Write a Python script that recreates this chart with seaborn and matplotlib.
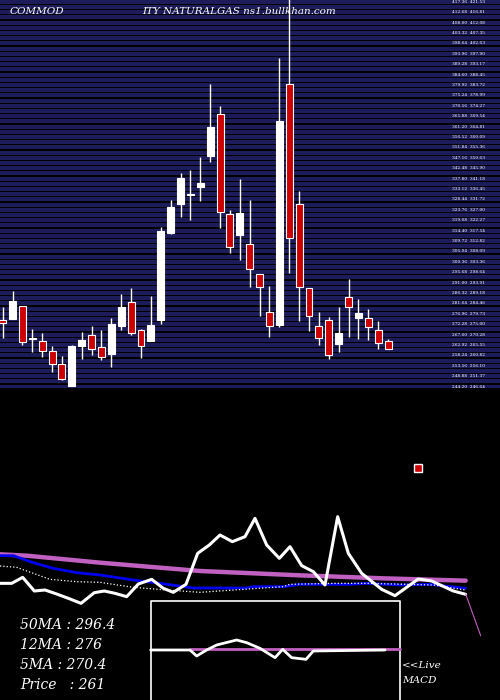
import numpy as np
import pandas as pd
import matplotlib
matplotlib.use("Agg")
import matplotlib.pyplot as plt
import seaborn as sns

sns.set_theme(style="dark")
plt.rcParams['font.family'] = ['DejaVu Serif']

opens  = [274.2,274.5,280.5,265.5,264.8,260.3,254.3,244.5,262.7,267.5,261.9,258.9,271.7,282.2,269.7,264.9,274.2,313.2,326.4,330.5,
          334.2,348.2,366.8,321.8,312.5,308.3,294.8,277.7,272.0,380.3,326.3,288.5,271.7,274.2,263.4,284.4,275.3,275.0,269.7,264.8]
closes = [273.0,282.8,264.5,265.7,260.4,254.3,247.7,262.5,265.2,261.0,257.4,272.4,280.2,268.2,262.7,272.0,314.3,325.2,338.3,330.6,
          335.7,361.2,322.7,307.2,322.5,297.0,289.2,271.7,363.8,311.3,289.2,276.2,266.3,258.5,268.5,279.9,277.2,271.2,263.7,261.0]
highs  = [280.2,287.3,280.5,270.0,268.5,262.5,258.0,263.0,269.0,271.5,269.7,275.0,285.9,288.8,270.0,285.0,315.9,328.2,340.2,341.7,
          347.7,380.4,370.5,323.7,337.5,328.2,294.8,289.7,392.0,425.0,332.3,288.5,277.7,275.7,280.2,292.7,283.7,279.2,273.8,265.7]
lows   = [266.0,274.5,263.0,260.0,257.7,251.0,247.2,244.5,256.7,258.5,256.2,253.2,269.7,267.5,257.3,264.9,272.4,312.9,320.7,319.2,
          327.9,345.2,315.8,304.2,301.2,289.2,276.2,266.7,271.2,295.5,273.8,269.3,263.0,256.7,260.0,266.7,265.7,265.2,261.2,261.0]

# lower panel series (x position, value)
osc_x = [0,35,68,103,135,170,205,243,283,313,345,380,415,455,490,520,558,593,628,660,697,735,765,800,838,870,905,940,975,1013,1045,1085,1145,1185,1255,1295,1360,1397]
osc_y = [580,580,562,603,600,612,625,640,608,603,610,620,582,568,595,607,583,490,465,435,455,440,385,465,505,470,527,545,585,380,490,550,598,617,567,573,603,613]
ma50_x = [0,80,300,600,900,1150,1397]
ma50_y = [493,497,518,543,556,565,572]
ma12_x = [0,40,100,160,230,300,400,480,580,740,760,850,900,1050,1100,1200,1290,1397]
ma12_y = [497,497,518,535,548,555,570,580,594,594,590,590,583,583,580,585,583,595]
ma5_x = [0,50,100,150,230,300,400,500,600,700,850,870,1000,1100,1300,1397]
ma5_y = [528,532,550,568,575,577,592,600,607,600,590,583,580,580,585,600]
macd_x = [452,570,590,620,650,710,740,780,825,848,875,918,940,1155]
macd_y = [780,780,798,780,765,750,758,775,803,778,803,808,783,780]

fig = plt.figure(figsize=(5, 7), dpi=100, facecolor='black')

# ---- price panel
ax = fig.add_axes([0, 312/700, 1, 388/700])
ax.set_facecolor('black')
ymin, ymax = 243.6, 418.2
levels = np.arange(ymin + 0.6, ymax, 2.34)
for lv in levels:
    ax.axhline(lv, color='#1c1c5a', lw=2.9, zorder=0)
for lv in levels[::2]:
    ax.text(452/500*50.6 - 0.27, lv, f"{lv:.2f}  {lv*1.01:.2f}", color='white', fontsize=3.2,
            va='center', ha='left', zorder=1)
idx = np.arange(len(opens))
for i in idx:
    o, c, h, l = opens[i], closes[i], highs[i], lows[i]
    up = c >= o
    ax.vlines(i, l, h, color='white', lw=1.0, zorder=2)
    ax.bar(i, max(abs(c - o), 0.4), bottom=min(o, c), width=0.7,
           color='white' if up else '#cc0000', edgecolor='white', linewidth=0.8, zorder=3)
ax.set_xlim(-0.27, 50.33)
ax.set_ylim(ymin, ymax)
ax.set_xticks([]); ax.set_yticks([])
for s in ax.spines.values():
    s.set_visible(False)
ax.text(10/500, 1 - 12/388, "COMMOD", transform=ax.transAxes, color='white', fontsize=7.5,
        style='italic', va='center')
ax.text(142/500, 1 - 12/388, "ITY NATURALGAS ns1.bullkhan.com", transform=ax.transAxes,
        color='white', fontsize=7.5, style='italic', va='center')

# ---- lower panel
bx = fig.add_axes([0, 0, 1, 310/700])
bx.set_facecolor('black')
bx.set_xlim(0, 1500); bx.set_ylim(930, 0)
bx.set_xticks([]); bx.set_yticks([])
for s in bx.spines.values():
    s.set_visible(False)
sns.lineplot(x=ma50_x, y=ma50_y, ax=bx, color='#c060c0', lw=3.2, sort=False)
sns.lineplot(x=ma12_x, y=ma12_y, ax=bx, color='#0000ee', lw=2, sort=False)
sns.lineplot(x=ma5_x, y=ma5_y, ax=bx, color='white', lw=0.9, ls=':', sort=False)
sns.lineplot(x=osc_x, y=osc_y, ax=bx, color='white', lw=2.2, sort=False)
bx.plot([1397, 1442], [612, 737], color='#c060c0', lw=0.8)
bx.plot([1253], [234], marker='s', ms=6, color='#cc0000', mec='white', mew=1)
bx.plot([452, 452, 1200, 1200], [930, 632, 632, 930], color='white', lw=1.2)
bx.plot([570, 1200], [778, 778], color='#c060c0', lw=2)
sns.lineplot(x=macd_x, y=macd_y, ax=bx, color='white', lw=2, sort=False)
for k, t in enumerate(["50MA : 296.4", "12MA : 276", "5MA : 270.4", "Price   : 261"]):
    bx.text(60, 705 + 60*k, t, color='white', fontsize=10, style='italic', va='center')
bx.text(1205, 828, "<<Live", color='white', fontsize=7.5, style='italic', va='center')
bx.text(1205, 872, "MACD", color='white', fontsize=7.5, style='italic', va='center')

fig.savefig("out.png", dpi=100, facecolor='black')
